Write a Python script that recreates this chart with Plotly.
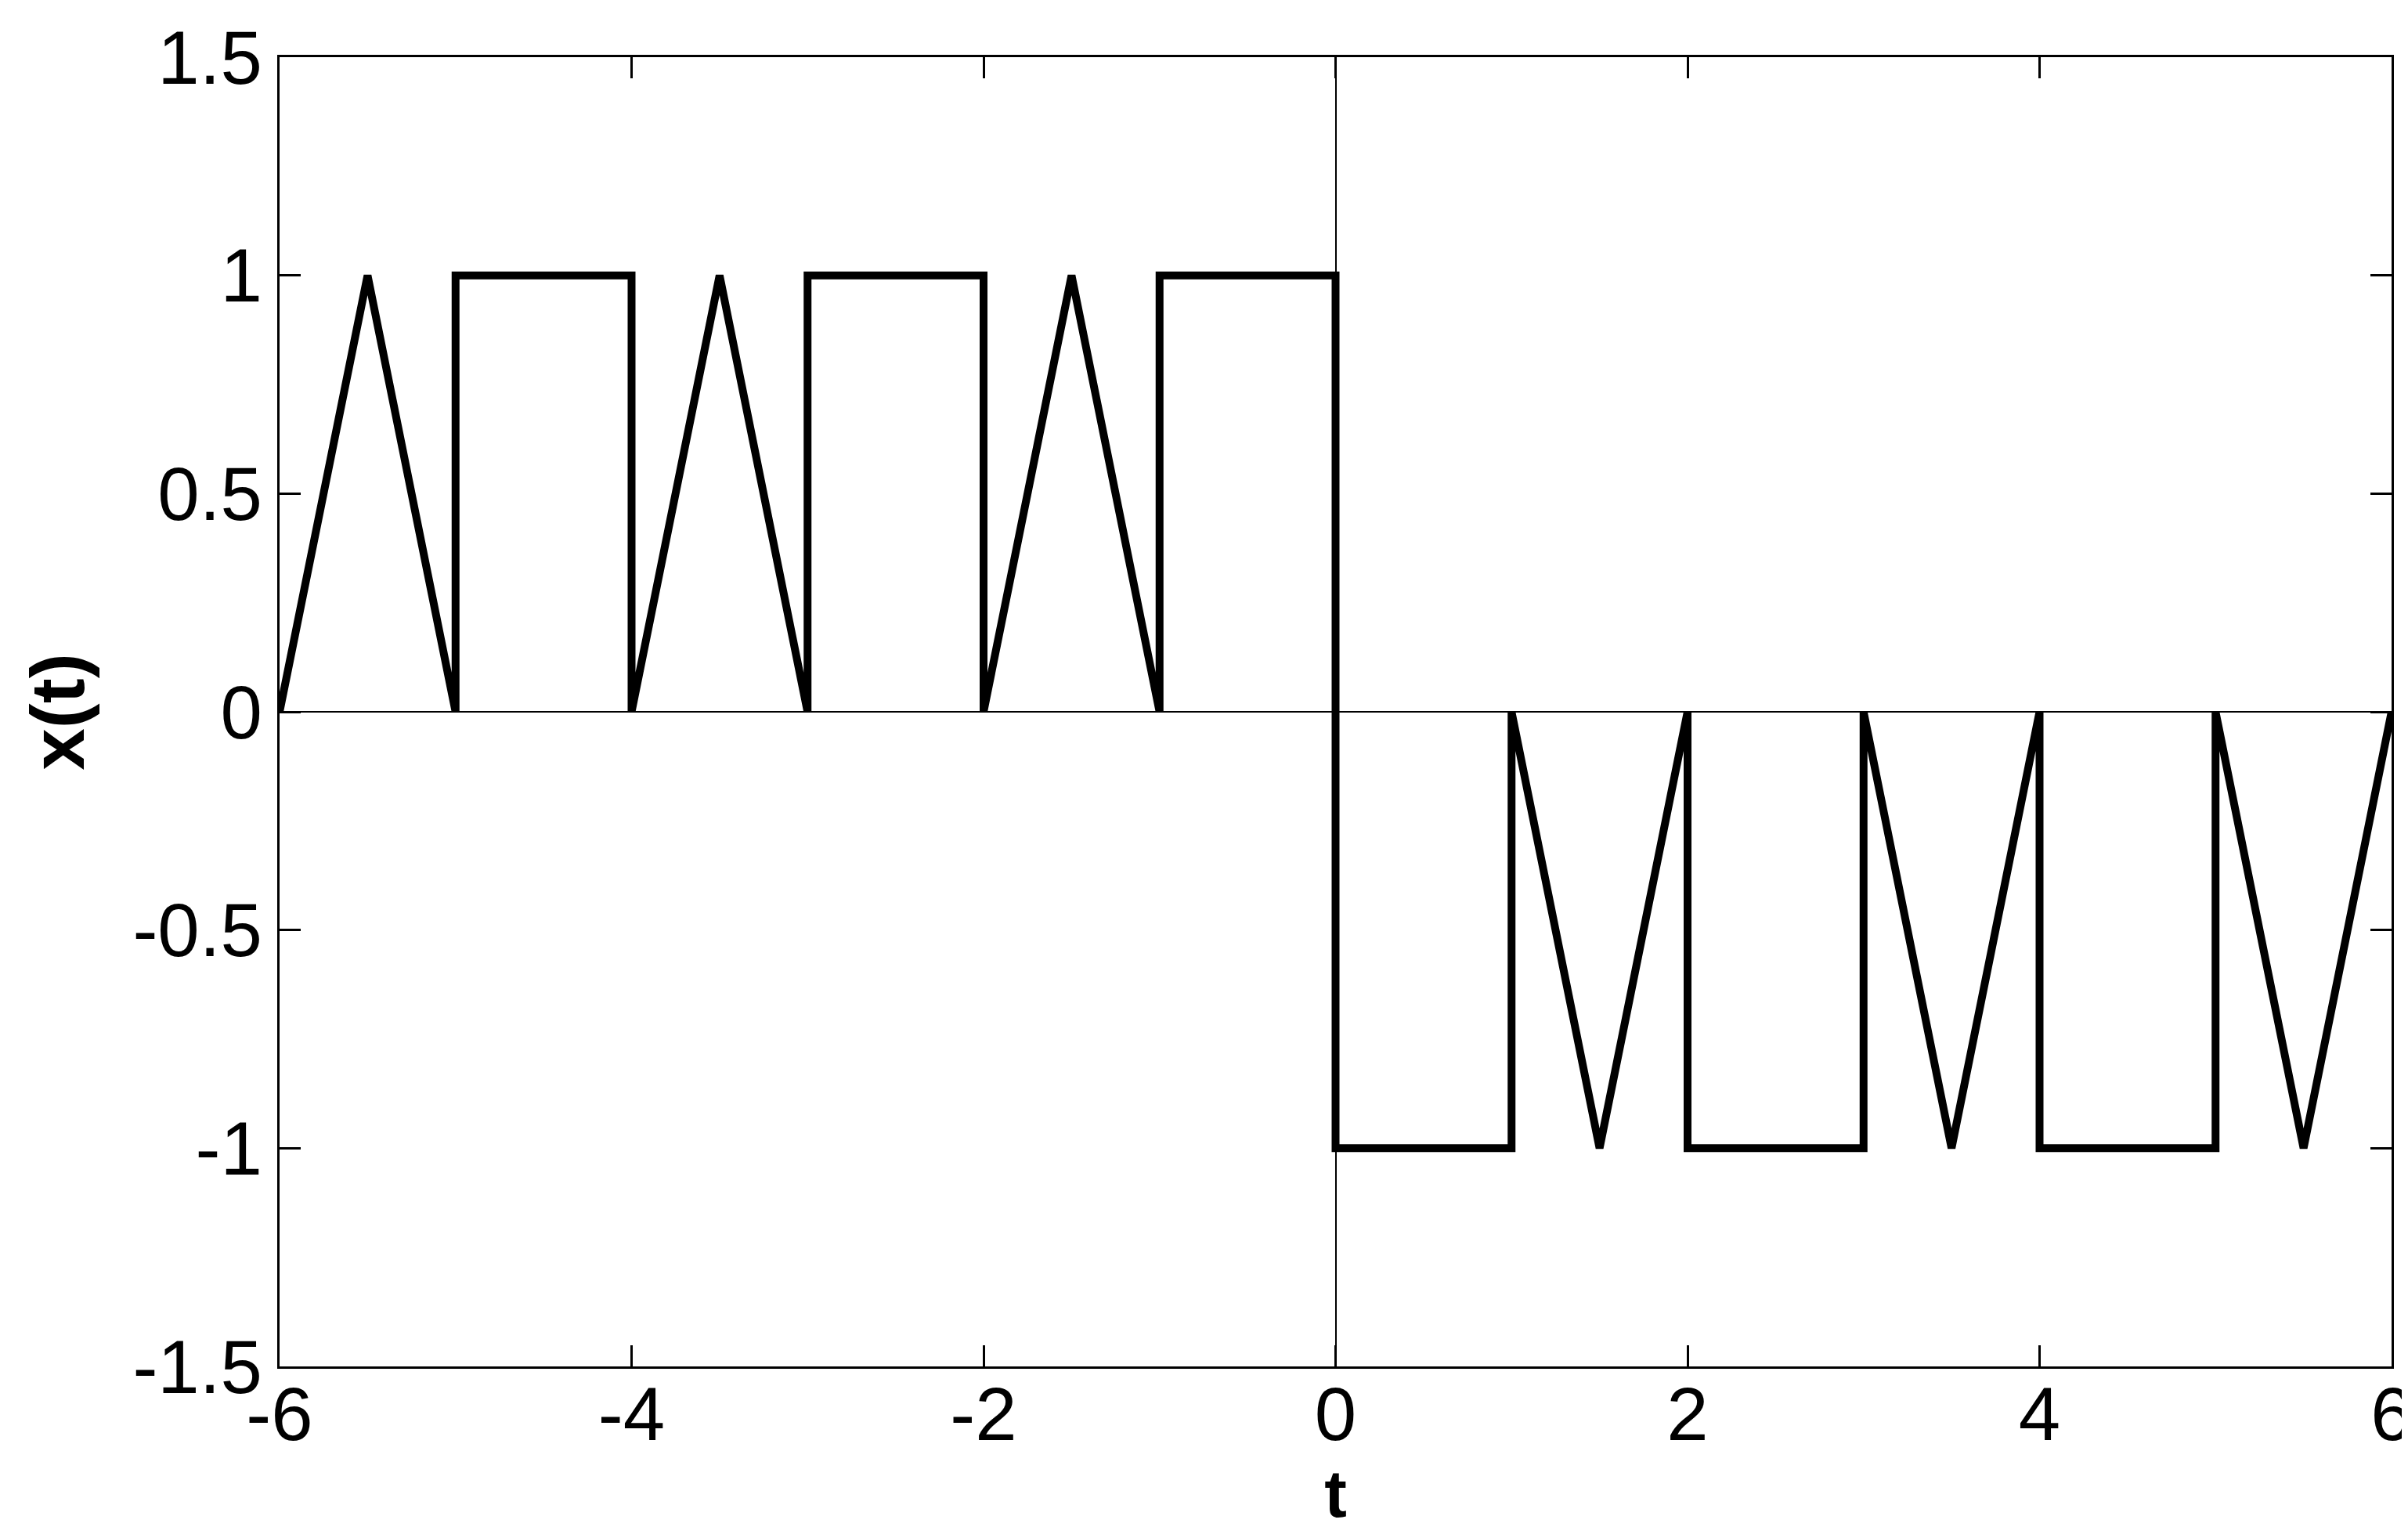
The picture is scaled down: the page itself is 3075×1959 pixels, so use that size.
import plotly.graph_objects as go

# Signal breakpoints (t, x(t))
t_vals = [-6, -5.5, -5, -5, -4, -4, -3.5, -3, -3, -2, -2, -1.5, -1, -1, 0, 0,
          1, 1, 1.5, 2, 2, 3, 3, 3.5, 4, 4, 5, 5, 5.5, 6]
x_vals = [0, 1, 0, 1, 1, 0, 1, 0, 1, 1, 0, 1, 0, 1, 1, -1,
          -1, 0, -1, 0, -1, -1, 0, -1, 0, -1, -1, 0, -1, 0]

x_tick_vals = [-6, -4, -2, 0, 2, 4, 6]
x_tick_text = ["-6", "-4", "-2", "0", "2", "4", "6"]
y_tick_vals = [-1.5, -1, -0.5, 0, 0.5, 1, 1.5]
y_tick_text = ["-1.5", "-1", "-0.5", "0", "0.5", "1", "1.5"]

FONT = "Liberation Sans, Arial, Helvetica, sans-serif"

fig = go.Figure()
fig.add_trace(go.Scatter(
    x=t_vals, y=x_vals, mode="lines",
    line=dict(color="black", width=10),
    showlegend=False, hoverinfo="skip",
))

axis_common = dict(
    showgrid=False,
    zeroline=True, zerolinecolor="black", zerolinewidth=2,
    showline=True, linecolor="black", linewidth=3, mirror="ticks",
    ticks="inside", ticklen=27, tickwidth=3, tickcolor="black",
    tickfont=dict(family=FONT, size=96, color="black"),
)

fig.update_xaxes(
    range=[-6, 6], tickmode="array", tickvals=x_tick_vals, ticktext=x_tick_text,
    ticklabelstandoff=-24,
    title=dict(text="<b>t</b>", font=dict(family=FONT, size=86, color="black"), standoff=16),
    **axis_common,
)
fig.update_yaxes(
    range=[-1.5, 1.5], tickmode="array", tickvals=y_tick_vals, ticktext=y_tick_text,
    title=dict(text="<b>x(t)</b>", font=dict(family=FONT, size=96, color="black"), standoff=30),
    **axis_common,
)

fig.update_layout(
    width=3075, height=1959,
    margin=dict(l=349, r=29, t=65, b=222, autoexpand=False),
    plot_bgcolor="white", paper_bgcolor="white",
    font=dict(family=FONT, color="black"),
)

fig.write_html("out.html")
